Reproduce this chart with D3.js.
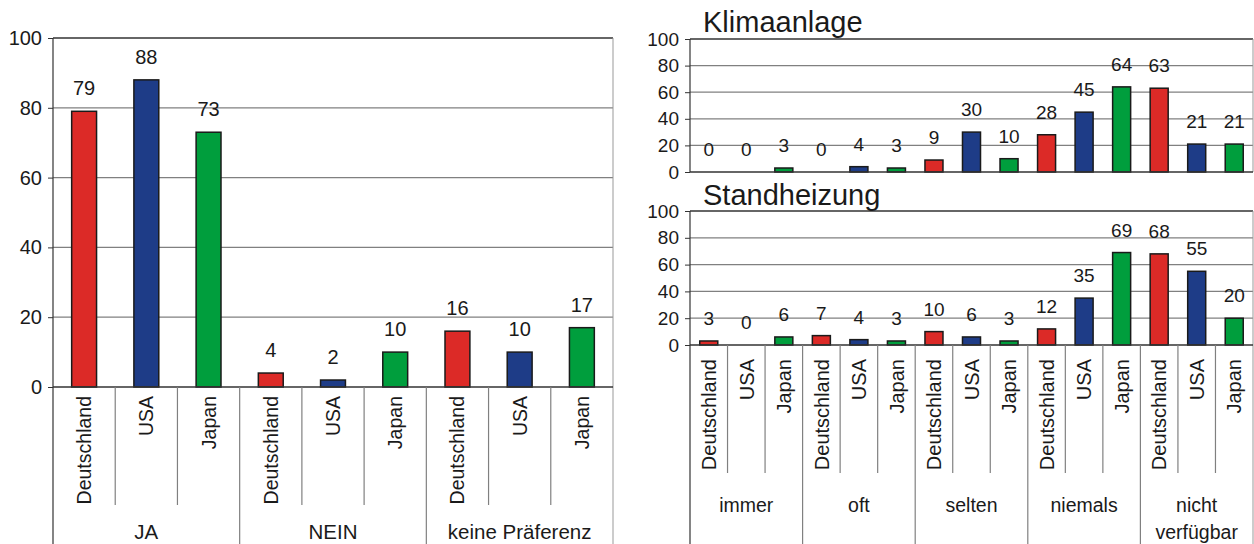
<!DOCTYPE html>
<html>
<head>
<meta charset="utf-8">
<script src="https://cdn.jsdelivr.net/npm/d3@7"></script>
<style>
  body { margin: 0; background: #fff; }
  svg { display: block; font-family: "Liberation Sans", Arial, sans-serif; }
</style>
</head>
<body>
<div id="chart"></div>
<script>
// data
const countries = ["Deutschland", "USA", "Japan"];
const prefGroups = ["JA", "NEIN", "keine Präferenz"];
const prefDeutschland = [79, 4, 16];
const prefUSA = [88, 2, 10];
const prefJapan = [73, 10, 17];

const useGroups = ["immer", "oft", "selten", "niemals", "nicht verfügbar"];
const klimaDeutschland = [0, 0, 9, 28, 63];
const klimaUSA = [0, 4, 30, 45, 21];
const klimaJapan = [3, 3, 10, 64, 21];
const heizDeutschland = [3, 7, 10, 12, 68];
const heizUSA = [0, 4, 6, 35, 55];
const heizJapan = [6, 3, 3, 69, 20];

const yTicks = [0, 20, 40, 60, 80, 100];
const colors = { Deutschland: "#dc2a27", USA: "#1e3c87", Japan: "#009e3d" };

const svg = d3.select("#chart").append("svg")
    .attr("width", 1254)
    .attr("height", 544);

// flatten groups x countries into one row per bar
function flatten(groups, series) {
    let rows = [];
    groups.forEach((grp, gi) => {
        countries.forEach((c, ci) => {
            rows.push({ key: grp + "|" + c, group: grp, country: c, value: series[ci][gi] });
        });
    });
    return rows;
}

function drawPanel(opt) {
    let rows = flatten(opt.groups, opt.series);
    let x = d3.scaleBand()
        .domain(rows.map(d => d.key))
        .range([opt.left, opt.right]);
    let y = d3.scaleLinear()
        .domain([0, 100])
        .range([opt.bottom, opt.top]);
    let g = svg.append("g");

    // gridlines
    g.selectAll(".grid")
        .data(yTicks.filter(t => t > 0 && t < 100))
        .enter().append("line")
        .attr("x1", opt.left).attr("x2", opt.right)
        .attr("y1", d => y(d)).attr("y2", d => y(d))
        .attr("stroke", "#808080").attr("stroke-width", 1.2);

    // plot border
    g.append("line")
        .attr("x1", opt.left).attr("x2", opt.right)
        .attr("y1", y(100)).attr("y2", y(100))
        .attr("stroke", "#333").attr("stroke-width", 1.3);
    g.append("line")
        .attr("x1", opt.right).attr("x2", opt.right)
        .attr("y1", y(100)).attr("y2", opt.sepBottom || y(0))
        .attr("stroke", "#999").attr("stroke-width", 1);

    // y axis
    let ax = g.append("g")
        .attr("transform", "translate(" + opt.left + ",0)")
        .call(d3.axisLeft(y).tickValues(yTicks).tickSize(5).tickPadding(6));
    ax.select(".domain").remove();
    ax.selectAll("line").attr("stroke", "#333");
    ax.selectAll("text")
        .attr("fill", "#1a1a1a")
        .style("font-size", opt.fontSize + "px")
        .style("font-family", "'Liberation Sans', Arial, sans-serif");

    g.append("line")
        .attr("x1", opt.left).attr("x2", opt.left)
        .attr("y1", y(100)).attr("y2", opt.sepBottom || y(0))
        .attr("stroke", "#333").attr("stroke-width", 1.2);

    // bars
    let bw = x.bandwidth() * opt.barFrac;
    g.selectAll(".bar")
        .data(rows.filter(d => d.value > 0))
        .enter().append("rect")
        .attr("x", d => x(d.key) + (x.bandwidth() - bw) / 2)
        .attr("y", d => y(d.value))
        .attr("width", bw)
        .attr("height", d => y(0) - y(d.value))
        .attr("fill", d => colors[d.country])
        .attr("stroke", "#1a1a1a")
        .attr("stroke-width", 1.5);

    // value labels
    g.selectAll(".val")
        .data(rows)
        .enter().append("text")
        .attr("x", d => x(d.key) + x.bandwidth() / 2)
        .attr("y", d => y(d.value) - opt.labelGap)
        .attr("text-anchor", "middle")
        .attr("fill", "#1a1a1a")
        .style("font-size", opt.fontSize + "px")
        .text(d => d.value);

    // baseline
    g.append("line")
        .attr("x1", opt.left).attr("x2", opt.right)
        .attr("y1", y(0)).attr("y2", y(0))
        .attr("stroke", "#333").attr("stroke-width", 1.3);

    if (opt.title) {
        g.append("text")
            .attr("x", opt.left + 13)
            .attr("y", opt.titleY)
            .attr("fill", "#1a1a1a")
            .style("font-size", "29px")
            .text(opt.title);
    }

    if (!opt.showCategories) return;

    // category separators + labels
    rows.forEach((d, i) => {
        if (i === 0) return;
        let xs = x(d.key);
        let isGroup = i % countries.length === 0;
        g.append("line")
            .attr("x1", xs).attr("x2", xs)
            .attr("y1", y(0)).attr("y2", isGroup ? opt.sepBottom : opt.minorBottom)
            .attr("stroke", "#808080").attr("stroke-width", 1.2);
    });

    g.selectAll(".cat")
        .data(rows)
        .enter().append("text")
        .attr("transform", d => "translate(" + (x(d.key) + x.bandwidth() / 2 + opt.catFont * 0.36) + "," + opt.catTop + ") rotate(-90)")
        .attr("text-anchor", "end")
        .attr("fill", "#1a1a1a")
        .style("font-size", opt.catFont + "px")
        .text(d => d.country);

    let gw = x.bandwidth() * countries.length;
    opt.groups.forEach(grp => {
        let cx = x(grp + "|" + countries[0]) + gw / 2;
        let t = g.append("text")
            .attr("x", cx)
            .attr("y", opt.groupY)
            .attr("text-anchor", "middle")
            .attr("fill", "#1a1a1a")
            .style("font-size", opt.groupFont + "px")
            .text(grp);
        if (t.node().getComputedTextLength() > gw - 8) {
            let words = grp.split(" ");
            t.text(null);
            words.forEach((w, wi) => {
                t.append("tspan")
                    .attr("x", cx)
                    .attr("y", opt.groupY + wi * opt.groupLine)
                    .text(w);
            });
        }
    });
}

// left: Präferenz
drawPanel({
    groups: prefGroups,
    series: [prefDeutschland, prefUSA, prefJapan],
    left: 53, right: 613, top: 38, bottom: 387,
    barFrac: 0.4, fontSize: 20, labelGap: 16,
    showCategories: true, catTop: 396, catFont: 19.5,
    minorBottom: 505, sepBottom: 544,
    groupY: 539, groupFont: 20.5, groupLine: 27
});

// right top: Klimaanlage
drawPanel({
    groups: useGroups,
    series: [klimaDeutschland, klimaUSA, klimaJapan],
    left: 690, right: 1253, top: 39, bottom: 172,
    barFrac: 0.48, fontSize: 19, labelGap: 16,
    title: "Klimaanlage", titleY: 32,
    showCategories: false
});

// right bottom: Standheizung
drawPanel({
    groups: useGroups,
    series: [heizDeutschland, heizUSA, heizJapan],
    left: 690, right: 1253, top: 211, bottom: 345,
    barFrac: 0.48, fontSize: 19, labelGap: 16,
    title: "Standheizung", titleY: 205,
    showCategories: true, catTop: 359, catFont: 20,
    minorBottom: 473, sepBottom: 544,
    groupY: 512, groupFont: 19.5, groupLine: 27
});
</script>
</body>
</html>
